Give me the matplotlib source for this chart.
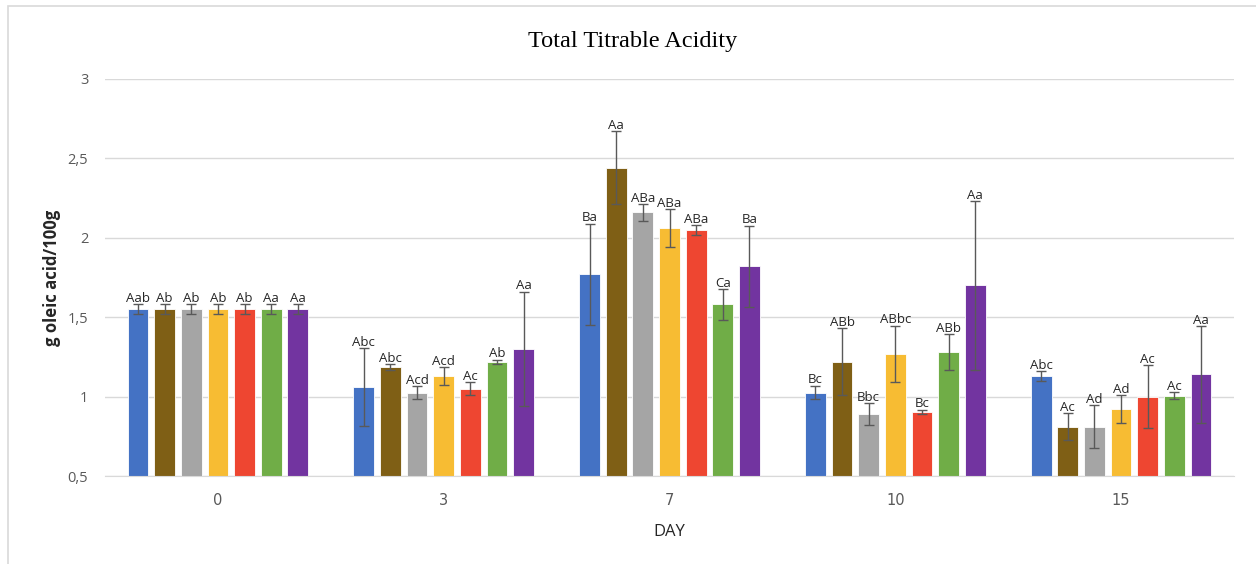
import numpy as np
import matplotlib
matplotlib.use('Agg')
import matplotlib.pyplot as plt
from matplotlib.patches import Rectangle

# sampling days and treatment colours
days = ['0', '3', '7', '10', '15']
colors = ['#4472C4', '#7F5F15', '#A5A5A5', '#F7BC33', '#EE4631', '#70AD47', '#7234A0']

# mean acidity (g oleic acid/100g), one list per treatment, across the days
t1 = [1.55, 1.06, 1.77, 1.025, 1.13]
t2 = [1.55, 1.185, 2.44, 1.22, 0.81]
t3 = [1.55, 1.025, 2.16, 0.89, 0.81]
t4 = [1.55, 1.13, 2.06, 1.27, 0.92]
t5 = [1.55, 1.05, 2.05, 0.905, 1.00]
t6 = [1.55, 1.22, 1.58, 1.28, 1.005]
t7 = [1.55, 1.30, 1.82, 1.70, 1.14]

# standard deviations
e1 = [0.03, 0.245, 0.32, 0.043, 0.03]
e2 = [0.03, 0.02, 0.23, 0.21, 0.085]
e3 = [0.03, 0.04, 0.054, 0.067, 0.135]
e4 = [0.03, 0.057, 0.12, 0.177, 0.088]
e5 = [0.03, 0.04, 0.03, 0.012, 0.20]
e6 = [0.03, 0.012, 0.095, 0.115, 0.023]
e7 = [0.03, 0.36, 0.256, 0.53, 0.305]

# significance letters
l1 = ['Aab', 'Abc', 'Ba', 'Bc', 'Abc']
l2 = ['Ab', 'Abc', 'Aa', 'ABb', 'Ac']
l3 = ['Ab', 'Acd', 'ABa', 'Bbc', 'Ad']
l4 = ['Ab', 'Acd', 'ABa', 'ABbc', 'Ad']
l5 = ['Ab', 'Ac', 'ABa', 'Bc', 'Ac']
l6 = ['Aa', 'Ab', 'Ca', 'ABb', 'Ac']
l7 = ['Aa', 'Aa', 'Ba', 'Aa', 'Aa']

means = [t1, t2, t3, t4, t5, t6, t7]
errs = [e1, e2, e3, e4, e5, e6, e7]
letters = [l1, l2, l3, l4, l5, l6, l7]

W, H = 1256, 564
fig = plt.figure(figsize=(W / 100, H / 100), dpi=100)

# light frame around the chart
fig.patches.append(Rectangle((8 / W, -0.05), 1.1, 1 - 6 / H + 0.05,
                             transform=fig.transFigure, fill=False,
                             edgecolor='#D9D9D9', linewidth=1.2))

ax = fig.add_axes([105 / W, 1 - 476 / H, (1234 - 105) / W, (476 - 79) / H])

x = np.arange(len(days))
slot = 0.118
width = 0.092
for i in range(7):
    pos = x + (i - 3) * slot
    ax.bar(pos, means[i], width=width, bottom=0, color=colors[i], zorder=2,
           edgecolor='white', linewidth=0.6)
    ax.errorbar(pos, means[i], yerr=errs[i], fmt='none', ecolor='#595959',
                elinewidth=1, capsize=3.5, capthick=1, zorder=3)
    for p, m, e, lab in zip(pos, means[i], errs[i], letters[i]):
        ax.annotate(lab, (p, m + e), xytext=(0, -0.5), textcoords='offset points',
                    ha='center', va='bottom', fontsize=9.5, color='#262626',
                    family='Open Sans', zorder=4)

ax.set_ylim(0.5, 3)
ax.set_xlim(-0.5, len(days) - 0.5)
yt = [0.5, 1, 1.5, 2, 2.5, 3]
ax.set_yticks(yt)
ax.set_yticklabels([('%g' % v).replace('.', ',') for v in yt])
ax.set_xticks(x)
ax.set_xticklabels(days)
ax.tick_params(length=0, labelsize=10.5, labelcolor='#595959', pad=12)
ax.tick_params(axis='y', pad=12)
for lab in ax.get_xticklabels() + ax.get_yticklabels():
    lab.set_family('Open Sans')

ax.grid(axis='y', color='#D9D9D9', linewidth=1, zorder=0)
ax.set_axisbelow(True)
for s in ['top', 'right', 'left']:
    ax.spines[s].set_visible(False)
ax.spines['bottom'].set_color('#D9D9D9')
ax.spines['bottom'].set_position(('data', 0.5))

ax.set_ylabel('g oleic acid/100g', fontsize=12, family='Open Sans',
              fontweight='bold', color='#262626', labelpad=5)
ax.set_xlabel('DAY', fontsize=12, family='Open Sans', color='#262626', labelpad=12)

fig.text(633 / W, 1 - 42 / H, 'Total Titrable Acidity', ha='center', va='center',
         fontsize=17.5, family='Liberation Serif', color='black')

fig.savefig('out.png', dpi=100, facecolor='white')
